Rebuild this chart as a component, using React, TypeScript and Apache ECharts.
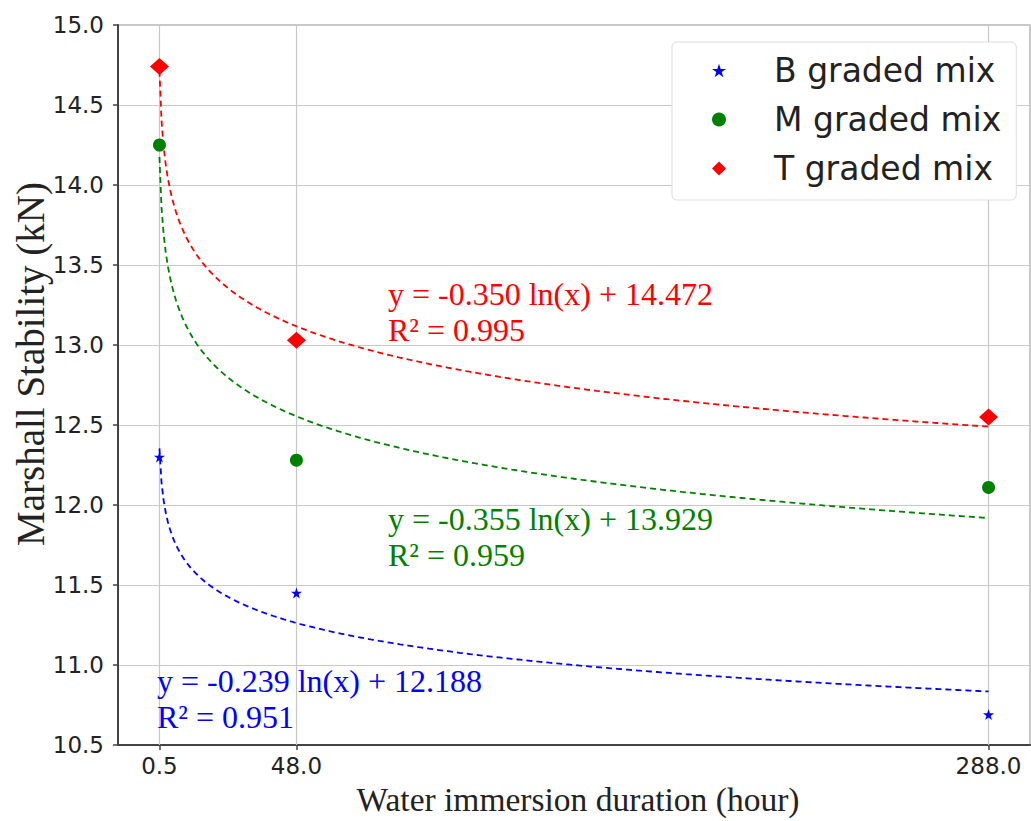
import React, { useEffect, useRef } from "react";
import * as echarts from "echarts";

const hours = [0.5, 48, 288];
const seriesNames = ["B graded mix", "M graded mix", "T graded mix"];
const bValues = [12.3, 11.45, 10.69];
const mValues = [14.25, 12.28, 12.11];
const tValues = [14.74, 13.03, 12.55];
const fitSlopes = [-0.239, -0.355, -0.35];
const fitIntercepts = [12.188, 13.929, 14.472];
const fitR2 = [0.951, 0.959, 0.995];
const xTickValues = [0.5, 48, 288];
const colors = ["#0000ff", "#008000", "#ff0000"];
const symbols = ["path://M50,0 L61.8,35.1 L98.9,35.1 L68.9,57.3 L80.3,92.7 L50,70.9 L19.7,92.7 L31.1,57.3 L1.1,35.1 L38.2,35.1 Z", "circle", "diamond"];
const symbolSizes: any[] = [11, 13, [19, 17]];

function fitCurve(slope: number, intercept: number) {
  const pts: number[][] = [];
  const n = 400;
  const x0 = hours[0];
  const x1 = hours[hours.length - 1];
  for (let i = 0; i <= n; i++) {
    const x = x0 + ((x1 - x0) * i) / n;
    pts.push([x, intercept + slope * Math.log(x)]);
  }
  return pts;
}

export default function App() {
  const ref = useRef<HTMLDivElement>(null);
  useEffect(() => {
    document.body.style.margin = "0";
    const chart = echarts.init(ref.current!, null, { renderer: "svg" });
    const valuesAll = [bValues, mValues, tValues];
    const scatterSeries = valuesAll.map((vals, i) => ({
      name: seriesNames[i],
      type: "scatter",
      data: hours.map((h, j) => [h, vals[j]]),
      symbol: symbols[i],
      symbolSize: symbolSizes[i],
      itemStyle: { color: colors[i], opacity: 1 },
      z: 5,
      markLine:
        i === 0
          ? {
              silent: true,
              symbol: "none",
              label: { show: false },
              lineStyle: { color: "#c8c8c8", type: "solid", width: 1.2 },
              emphasis: { disabled: true },
              data: xTickValues.map((v) => ({ xAxis: v })),
              z: 1,
            }
          : undefined,
    }));
    const lineSeries = fitSlopes.map((s, i) => ({
      name: seriesNames[i] + " fit",
      type: "line",
      data: fitCurve(s, fitIntercepts[i]),
      showSymbol: false,
      symbol: "none",
      lineStyle: { color: colors[i], width: 1.8, type: [6, 4] },
      z: 4,
    }));
    const fmt = (v: number) => (v === 0.5 ? "0.5" : v.toFixed(1));
    const annPos = [
      [157, 665],
      [388, 503],
      [388, 278],
    ];
    const annotations: any[] = [];
    fitSlopes.forEach((s, i) => {
      const lines = [
        "y = " + s.toFixed(3) + " ln(x) + " + fitIntercepts[i].toFixed(3),
        "R² = " + fitR2[i].toFixed(3),
      ];
      lines.forEach((t, k) => {
        annotations.push({
          type: "text",
          left: annPos[i][0],
          top: annPos[i][1] + k * 36,
          z: 10,
          style: {
            text: t,
            fill: colors[i],
            font: "32px 'Liberation Serif'",
            lineHeight: 32,
          },
        });
      });
    });
    chart.setOption({
      animation: false,
      grid: {
        left: 118,
        right: 1,
        top: 25,
        bottom: 69,
        show: true,
        borderColor: "#b8b8b8",
        borderWidth: 1.5,
        backgroundColor: "transparent",
      },
      legend: {
        data: seriesNames.map((n, i) => ({ name: n, icon: symbols[i] })),
        orient: "vertical",
        left: 672,
        top: 42,
        padding: [12, 15, 15, 40],
        itemGap: 16,
        itemWidth: 14,
        itemHeight: 14,
        backgroundColor: "#ffffff",
        borderColor: "#dddddd",
        borderWidth: 1,
        borderRadius: 5,
        textStyle: {
          fontSize: 33,
          fontFamily: "DejaVu Sans",
          color: "#222",
          padding: [0, 0, 0, 43],
        },
      },
      xAxis: {
        type: "value",
        min: -13.875,
        max: 302.375,
        name: "Water immersion duration (hour)",
        nameLocation: "middle",
        nameGap: 37,
        nameTextStyle: {
          fontFamily: "Liberation Serif",
          fontSize: 33.5,
          color: "#222",
          verticalAlign: "top",
          padding: [0, 0, 0, 8],
        },
        axisLine: { show: true, onZero: false, lineStyle: { color: "#444", width: 2 } },
        axisTick: { show: true, length: 5, customValues: xTickValues, lineStyle: { color: "#444", width: 1.5 } },
        axisLabel: {
          customValues: xTickValues,
          formatter: (v: number) => fmt(v),
          fontFamily: "DejaVu Sans",
          fontSize: 23,
          color: "#222",
          margin: 9,
        },
        splitLine: { show: false },
      },
      yAxis: {
        type: "value",
        min: 10.5,
        max: 15,
        interval: 0.5,
        axisLine: { show: true, onZero: false, lineStyle: { color: "#444", width: 2 } },
        axisTick: { show: true, length: 5, lineStyle: { color: "#444", width: 1.5 } },
        axisLabel: {
          formatter: (v: number) => v.toFixed(1),
          fontFamily: "DejaVu Sans",
          fontSize: 23,
          color: "#222",
          margin: 14,
        },
        splitLine: { show: true, lineStyle: { color: "#c8c8c8", width: 1.2 } },
      },
      graphic: [
        {
          type: "text",
          x: 30,
          y: 364,
          rotation: Math.PI / 2,
          z: 10,
          style: {
            text: "Marshall Stability (kN)",
            font: "39px 'Liberation Serif'",
            fill: "#222",
            align: "center",
            verticalAlign: "middle",
          },
        },
        ...annotations,
      ],
      series: [...lineSeries, ...scatterSeries],
    });
    return () => chart.dispose();
  }, []);
  return <div ref={ref} style={{ width: 1031, height: 821 }} />;
}
